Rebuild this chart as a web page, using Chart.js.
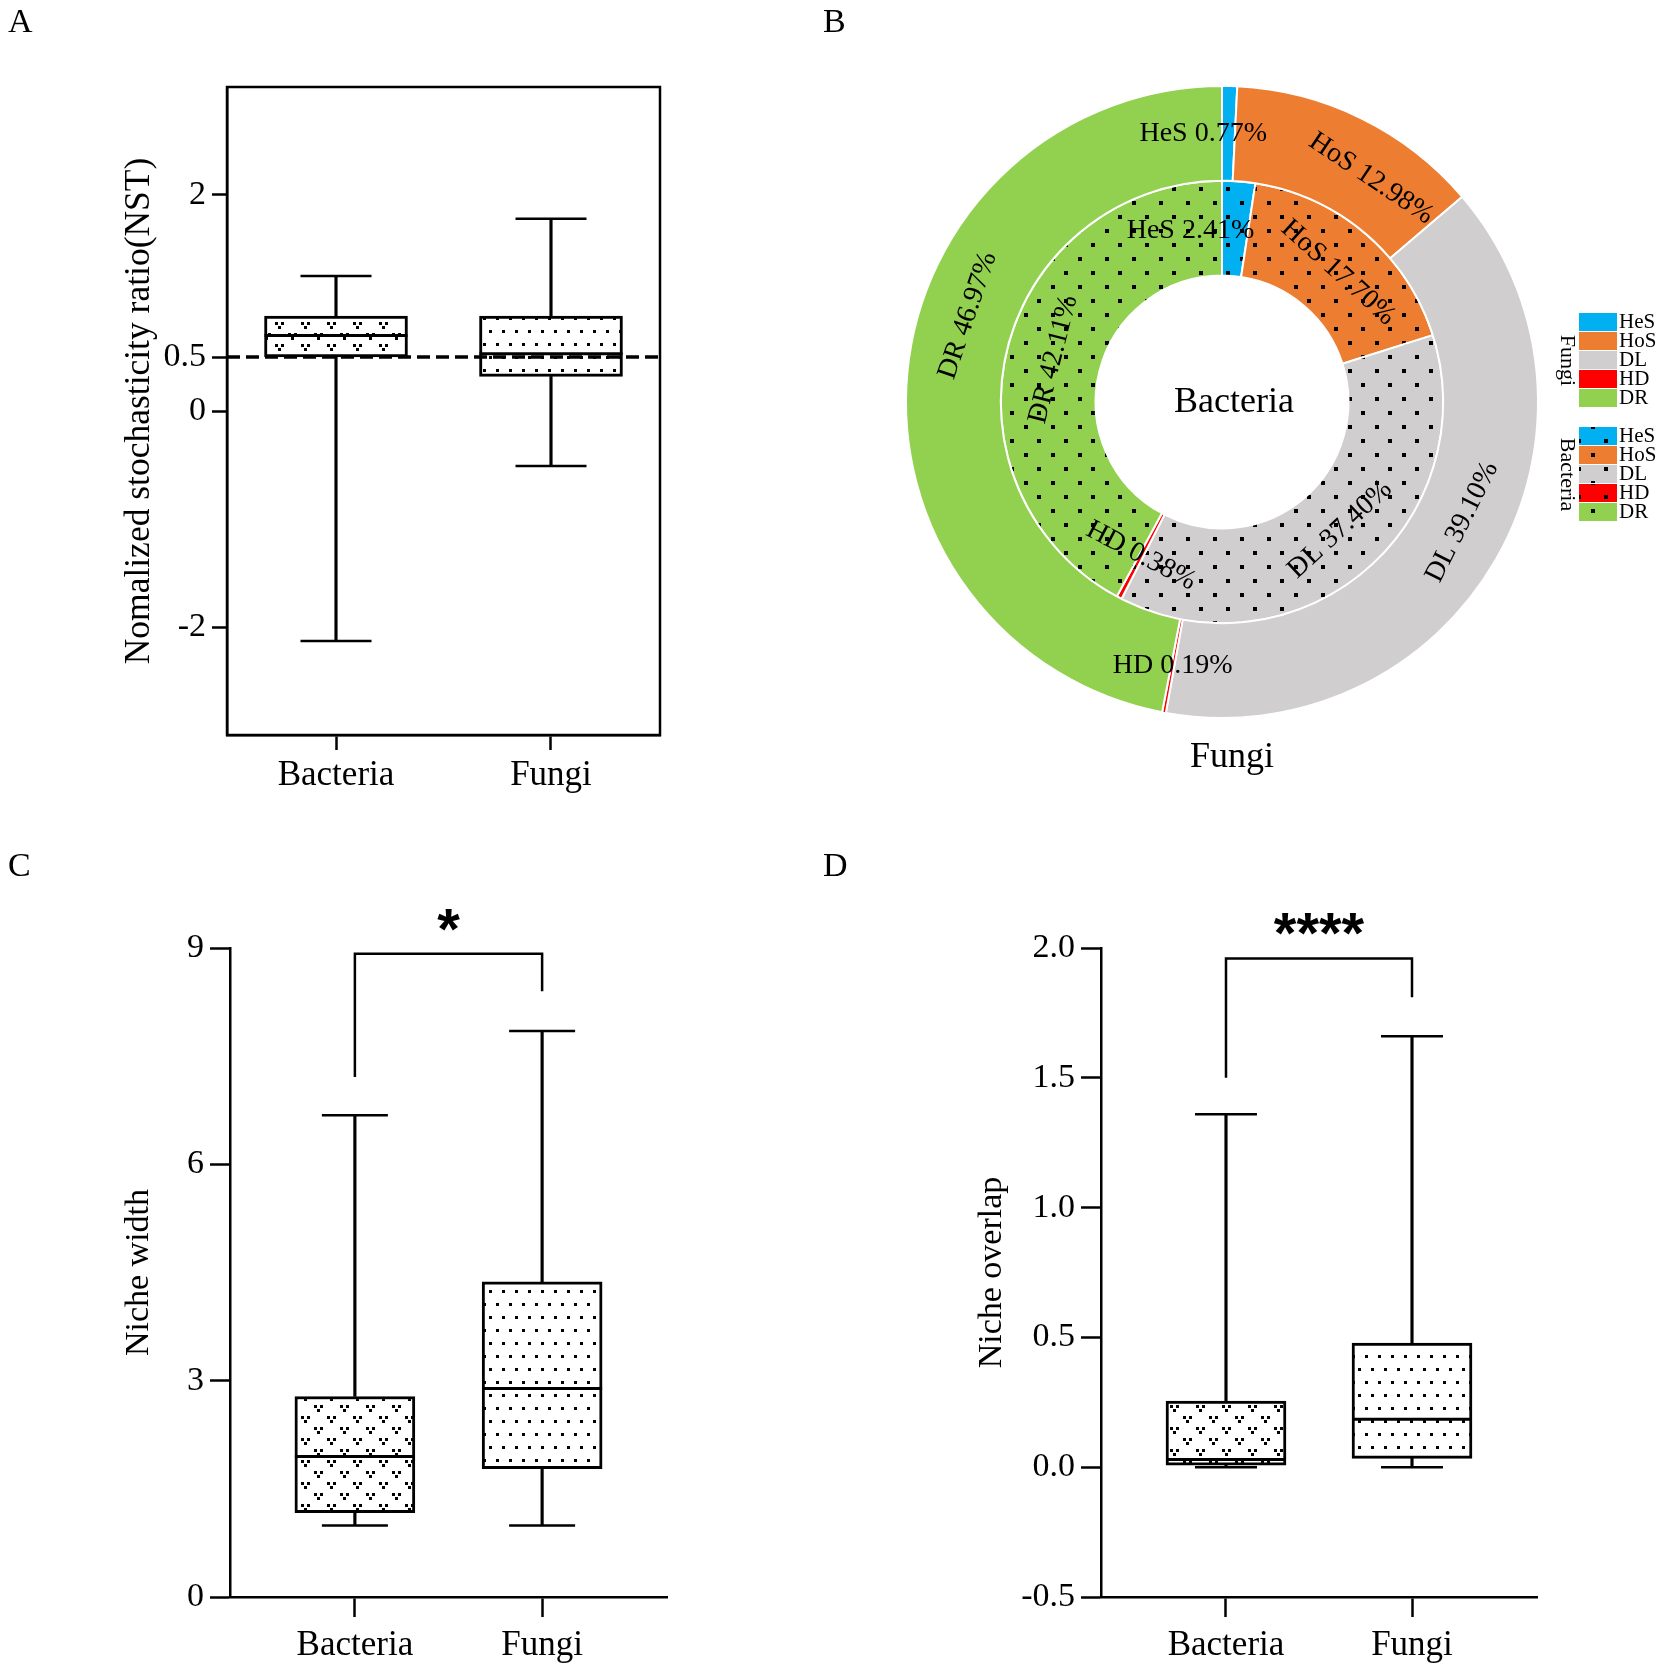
<!DOCTYPE html>
<html>
<head>
<meta charset="utf-8">
<script src="https://cdn.jsdelivr.net/npm/chart.js@4.4.1/dist/chart.umd.min.js"></script>
<style>
  html, body { margin: 0; padding: 0; background: #fff; }
  #page { position: relative; width: 1665px; height: 1677px; background: #fff; overflow: hidden; }
  canvas { position: absolute; }
  .tag { position: absolute; font-family: "Liberation Serif", serif; font-size: 34px; line-height: 34px; color: #000; }
</style>
</head>
<body>
<div id="page">
  <canvas id="canvasA" width="830" height="830" style="left:0;top:0"></canvas>
  <canvas id="canvasB" width="835" height="830" style="left:830px;top:0"></canvas>
  <canvas id="canvasC" width="830" height="847" style="left:0;top:830px"></canvas>
  <canvas id="canvasD" width="835" height="847" style="left:830px;top:830px"></canvas>
  <div class="tag" style="left:8px;top:4px">A</div>
  <div class="tag" style="left:823px;top:4px">B</div>
  <div class="tag" style="left:8px;top:848px">C</div>
  <div class="tag" style="left:823px;top:848px">D</div>
</div>
<script>
Chart.defaults.font.family = '"Liberation Serif", "Times New Roman", serif';
Chart.defaults.color = "#000";
Chart.defaults.animation = false;

const groups = ["Bacteria", "Fungi"];

// A - normalized stochasticity ratio
const nstMin = [-2.13, -0.51];
const nstQ1 = [0.5, 0.32];
const nstMedian = [0.7, 0.53];
const nstQ3 = [0.88, 0.88];
const nstMax = [1.25, 1.78];
const nstTicks = [-2, 0, 0.5, 2];
const nstThreshold = 0.5;

// B - community assembly processes
const processes = ["HeS", "HoS", "DL", "HD", "DR"];
const fungiShare = [0.77, 12.98, 39.1, 0.19, 46.97];
const bacteriaShare = [2.41, 17.7, 37.4, 0.38, 42.11];
const processColors = ["#00B0F0", "#ED7D31", "#D0CECE", "#FF0000", "#92D050"];

// C - niche width
const widthMin = [0.99, 0.99];
const widthQ1 = [1.17, 1.78];
const widthMedian = [1.95, 2.89];
const widthQ3 = [2.78, 4.37];
const widthMax = [6.68, 7.85];
const widthTicks = [0, 3, 6, 9];
const widthBracket = [8.92, 7.21, 8.4];

// D - niche overlap
const overlapMin = [0.0, 0.0];
const overlapQ1 = [0.008, 0.034];
const overlapMedian = [0.03, 0.185];
const overlapQ3 = [0.255, 0.478];
const overlapMax = [1.36, 1.66];
const overlapTicks = [-0.5, 0, 0.5, 1, 1.5, 2];
const overlapBracket = [1.96, 1.5, 1.81];

// fill patterns
function tile(w, h, bg, draw) {
  const c = document.createElement("canvas");
  c.width = w;
  c.height = h;
  const g = c.getContext("2d");
  g.fillStyle = bg;
  g.fillRect(0, 0, w, h);
  g.fillStyle = "#000";
  draw(g);
  return g.createPattern(c, "repeat");
}
function dots(bg, w, h, s) {
  return tile(w, h, bg, (g) => {
    g.fillRect(Math.round(w / 4 - s / 2), Math.round(h / 4 - s / 2), s, s);
    g.fillRect(Math.round((3 * w) / 4 - s / 2), Math.round((3 * h) / 4 - s / 2), s, s);
  });
}
function vees(w, h) {
  return tile(w, h, "#fff", (g) => {
    const v = (x, y) => {
      g.fillRect(x - 4, y - 2, 3, 3);
      g.fillRect(x + 2, y - 2, 3, 3);
      g.fillRect(x - 1, y + 2, 3, 3);
    };
    v(6, 5);
    v(19, 16);
  });
}
const boxFills = [vees(26, 22), dots("#fff", 13, 26, 3)];

function boxChart(id, o) {
  const at = (arr) => arr.map((v, i) => ({ x: i, y: v }));
  const span = (a, b) => a.map((v, i) => ({ x: i, y: [v, b[i]] }));
  const tickGrid = { display: true, drawOnChartArea: false, offset: false, tickLength: o.tick, tickColor: "#000", tickWidth: 2.5 };
  const axisLine = { display: true, color: "#000", width: 2.5 };
  return new Chart(document.getElementById(id), {
    type: "bar",
    data: {
      datasets: [
        { type: "scatter", data: at(o.median), pointStyle: "line", pointRadius: o.box / 2, pointBorderWidth: 3, pointBorderColor: "#000", order: 0 },
        { type: "scatter", data: at(o.min).concat(at(o.max)), pointStyle: "line", pointRadius: o.cap / 2, pointBorderWidth: 2.5, pointBorderColor: "#000", order: 1 },
        { data: span(o.q1, o.q3), backgroundColor: boxFills, borderColor: "#000", borderWidth: 3, borderSkipped: false, barThickness: o.box, grouped: false, order: 2 },
        { data: span(o.min, o.q1), backgroundColor: "#000", barThickness: 2.5, grouped: false, order: 3 },
        { data: span(o.q3, o.max), backgroundColor: "#000", barThickness: 2.5, grouped: false, order: 3 },
      ],
    },
    options: {
      responsive: false,
      events: [],
      layout: { padding: { left: 0, top: o.top, right: o.right, bottom: 0 } },
      plugins: { legend: { display: false }, tooltip: { enabled: false } },
      scales: {
        x: {
          type: "linear",
          min: o.xMin,
          max: o.xMax,
          offset: false,
          afterBuildTicks: (s) => { s.ticks = groups.map((g, i) => ({ value: i })); },
          afterFit: (s) => { s.height = o.xHeight; },
          ticks: { callback: (v) => groups[v], font: { size: 35 }, padding: o.xPad, maxRotation: 0, autoSkip: false },
          grid: tickGrid,
          border: axisLine,
        },
        y: {
          min: o.yMin,
          max: o.yMax,
          afterBuildTicks: (s) => { s.ticks = o.ticks.map((v) => ({ value: v })); },
          afterFit: (s) => { s.width = o.yWidth; },
          ticks: { callback: o.fmt, font: { size: 34 }, padding: 6, autoSkip: false },
          grid: tickGrid,
          border: axisLine,
          title: { display: true, text: o.title, font: { size: o.titleSize }, padding: { top: o.titlePad, bottom: 0 } },
        },
      },
    },
    plugins: o.plugins,
  });
}

const framePlugin = {
  id: "frame",
  afterDraw(chart) {
    const { ctx, chartArea: a } = chart;
    ctx.save();
    ctx.lineWidth = 2.5;
    ctx.strokeStyle = "#000";
    ctx.strokeRect(a.left, a.top, a.right - a.left, a.bottom - a.top);
    ctx.restore();
  },
};
const thresholdPlugin = {
  id: "threshold",
  afterDatasetsDraw(chart) {
    const { ctx, chartArea: a } = chart;
    const y = chart.scales.y.getPixelForValue(nstThreshold);
    ctx.save();
    ctx.lineWidth = 3.5;
    ctx.strokeStyle = "#000";
    ctx.setLineDash([13, 6]);
    ctx.beginPath();
    ctx.moveTo(a.left, y);
    ctx.lineTo(a.right, y);
    ctx.stroke();
    ctx.restore();
  },
};
function bracketPlugin(b, stars) {
  return {
    id: "bracket",
    afterDraw(chart) {
      const { ctx } = chart;
      const { x, y } = chart.scales;
      const x0 = x.getPixelForValue(0);
      const x1 = x.getPixelForValue(1);
      const top = y.getPixelForValue(b[0]);
      ctx.save();
      ctx.lineWidth = 2.5;
      ctx.strokeStyle = "#000";
      ctx.beginPath();
      ctx.moveTo(x0, y.getPixelForValue(b[1]));
      ctx.lineTo(x0, top);
      ctx.lineTo(x1, top);
      ctx.lineTo(x1, y.getPixelForValue(b[2]));
      ctx.stroke();
      ctx.fillStyle = "#000";
      ctx.font = 'bold 58px "Liberation Sans", Arial, sans-serif';
      ctx.textAlign = "center";
      ctx.textBaseline = "alphabetic";
      ctx.fillText(stars, (x0 + x1) / 2, top - 5);
      ctx.restore();
    },
  };
}

// A
boxChart("canvasA", {
  min: nstMin, q1: nstQ1, median: nstMedian, q3: nstQ3, max: nstMax, ticks: nstTicks,
  fmt: (v) => String(v), yMin: -3, yMax: 3, xMin: -0.507, xMax: 1.507,
  top: 87, right: 170, yWidth: 227, xHeight: 95, tick: 15, xPad: 5,
  box: 143, cap: 71, title: "Nomalized stochasticity ratio(NST)", titleSize: 35.5, titlePad: 118,
  plugins: [thresholdPlugin, framePlugin],
});

// C
boxChart("canvasC", {
  min: widthMin, q1: widthQ1, median: widthMedian, q3: widthQ3, max: widthMax, ticks: widthTicks,
  fmt: (v) => String(v), yMin: 0, yMax: 9, xMin: -0.667, xMax: 1.667,
  top: 118, right: 163, yWidth: 230, xHeight: 80, tick: 20, xPad: 8,
  box: 120, cap: 66, title: "Niche width", titleSize: 34, titlePad: 118.6,
  plugins: [bracketPlugin(widthBracket, "*")],
});

// D
boxChart("canvasD", {
  min: overlapMin, q1: overlapQ1, median: overlapMedian, q3: overlapQ3, max: overlapMax, ticks: overlapTicks,
  fmt: (v) => v.toFixed(1), yMin: -0.5, yMax: 2, xMin: -0.672, xMax: 1.672,
  top: 118, right: 128, yWidth: 271, xHeight: 80, tick: 20, xPad: 8,
  box: 120, cap: 62, title: "Niche overlap", titleSize: 34, titlePad: 141.6,
  plugins: [bracketPlugin(overlapBracket, "****")],
});

// B - doughnut
const ringLabels = {
  id: "ringLabels",
  afterDatasetsDraw(chart, args, opts) {
    const { ctx } = chart;
    ctx.save();
    ctx.font = '28px "Liberation Serif"';
    ctx.fillStyle = "#000";
    ctx.textAlign = "center";
    ctx.textBaseline = "middle";
    chart.data.datasets.forEach((ds, di) => {
      chart.getDatasetMeta(di).data.forEach((arc, i) => {
        const p = arc.getProps(["x", "y", "startAngle", "endAngle", "innerRadius", "outerRadius"], true);
        const a = (p.startAngle + p.endAngle) / 2 + (opts.nudge[di][i] * Math.PI) / 180;
        const r = (p.innerRadius + p.outerRadius) / 2;
        let rot = a + Math.PI / 2;
        rot = Math.atan2(Math.sin(rot), Math.cos(rot));
        if (rot > Math.PI / 2) rot -= Math.PI;
        else if (rot < -Math.PI / 2) rot += Math.PI;
        if (opts.flat[di][i]) rot = 0;
        ctx.save();
        ctx.translate(p.x + r * Math.cos(a), p.y + r * Math.sin(a));
        ctx.rotate(rot);
        ctx.fillText(processes[i] + " " + ds.data[i].toFixed(2) + "%", 0, 0);
        ctx.restore();
      });
    });
    ctx.restore();
  },
};
const ringDecor = {
  id: "ringDecor",
  afterDraw(chart, args, opts) {
    const { ctx } = chart;
    const c = chart.getDatasetMeta(0).data[0];
    ctx.save();
    ctx.fillStyle = "#000";
    ctx.textAlign = "center";
    ctx.textBaseline = "middle";
    ctx.font = '36px "Liberation Serif"';
    ctx.fillText(chart.data.datasets[1].label, c.x + 12, c.y + 1);
    ctx.fillText(chart.data.datasets[0].label, c.x + 10, c.y + 356);
    chart.data.datasets.forEach((ds, di) => {
      const top = opts.top[di];
      ds.backgroundColor.forEach((fill, i) => {
        const y = top + i * opts.row;
        ctx.fillStyle = fill;
        ctx.fillRect(opts.x, y, opts.w, opts.row - 1);
        ctx.fillStyle = "#000";
        ctx.font = '21px "Liberation Serif"';
        ctx.textAlign = "left";
        ctx.fillText(processes[i], opts.x + opts.w + 2, y + opts.row / 2);
      });
      ctx.save();
      ctx.translate(opts.x - 12, top + (processes.length * opts.row) / 2);
      ctx.rotate(Math.PI / 2);
      ctx.textAlign = "center";
      ctx.font = '22px "Liberation Serif"';
      ctx.fillText(ds.label, 0, 0);
      ctx.restore();
    });
    ctx.restore();
  },
};

new Chart(document.getElementById("canvasB"), {
  type: "doughnut",
  data: {
    labels: processes,
    datasets: [
      { label: groups[1], data: fungiShare, backgroundColor: processColors },
      { label: groups[0], data: bacteriaShare, backgroundColor: processColors.map((c) => dots(c, 27, 28, 4)) },
    ],
  },
  options: {
    responsive: false,
    events: [],
    cutout: "40%",
    borderColor: "#fff",
    borderWidth: 2,
    layout: { padding: { left: 75, right: 126, top: 85, bottom: 111 } },
    plugins: {
      legend: { display: false },
      tooltip: { enabled: false },
      ringLabels: {
        nudge: [[-5.4, 7.6, -3.3, 0, 13.3], [-14.8, 1.4, -2.5, 0, 0]],
        flat: [[true, false, false, true, false], [true, false, false, false, false]],
      },
      ringDecor: { x: 749, w: 38, row: 19, top: [313, 427] },
    },
  },
  plugins: [ringLabels, ringDecor],
});
</script>
</body>
</html>
